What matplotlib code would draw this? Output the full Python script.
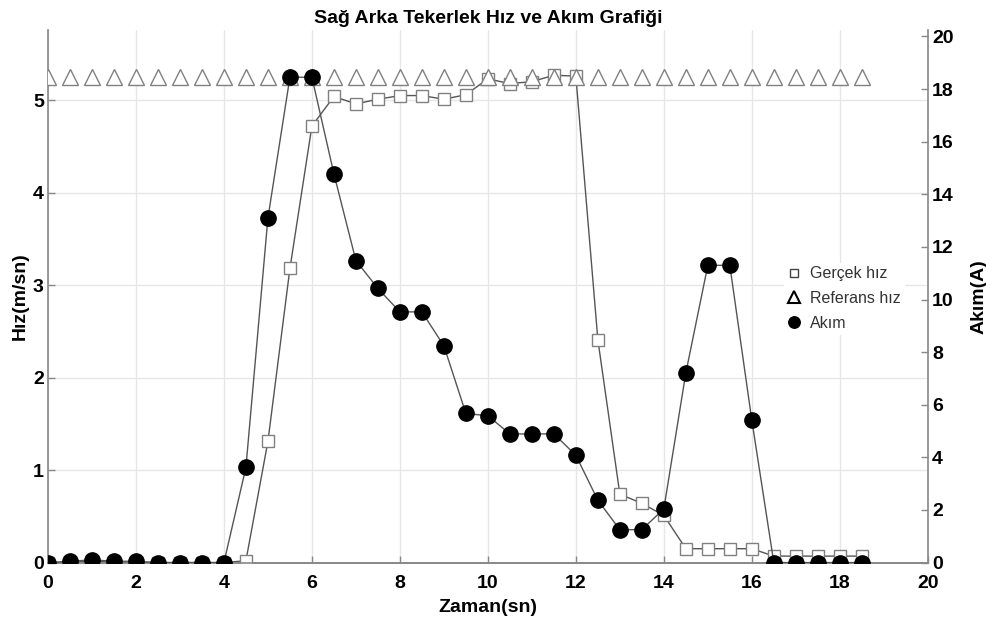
import matplotlib
matplotlib.use('Agg')
import matplotlib.pyplot as plt
import numpy as np

plt.rcParams['font.family'] = ['Liberation Sans', 'DejaVu Sans']

# time axis [s]
zaman = [0, 0.5, 1, 1.5, 2, 2.5, 3, 3.5, 4, 4.5, 5, 5.5, 6, 6.5, 7, 7.5, 8, 8.5, 9, 9.5,
         10, 10.5, 11, 11.5, 12, 12.5, 13, 13.5, 14, 14.5, 15, 15.5, 16, 16.5, 17, 17.5, 18, 18.5]

# measured speed [m/s]
gercek_hiz = [0, 0, 0.02, 0, 0, 0, 0, 0, 0, 0.02, 1.31, 3.18, 4.72, 5.04, 4.96, 5.01, 5.05, 5.05, 5.01, 5.06,
              5.23, 5.18, 5.20, 5.27, 5.26, 2.41, 0.74, 0.64, 0.51, 0.15, 0.15, 0.15, 0.15, 0.07, 0.07, 0.07, 0.07, 0.07]

# reference speed [m/s]
referans_hiz = [5.25] * 38

# current [A]
akim = [0, 0.05, 0.1, 0.05, 0.05, 0, 0, 0, 0, 3.62, 13.1, 18.45, 18.45, 14.78, 11.48, 10.42, 9.53, 9.53, 8.24, 5.67,
        5.58, 4.89, 4.89, 4.89, 4.08, 2.37, 1.25, 1.25, 2.04, 7.21, 11.3, 11.3, 5.41, 0, 0, 0, 0, 0]

fig = plt.figure(figsize=(9.87, 6.23), dpi=100)
ax = fig.add_axes([0.0486, 0.097, 0.8914, 0.855])
ax2 = ax.twinx()

line_col = '#555555'
edge_col = '#808080'
fs = 14

ax.grid(color='#e6e6e6', linewidth=1)
ax.set_axisbelow(True)

l1, = ax.plot(zaman, gercek_hiz, color=line_col, linewidth=1, marker='s', markersize=8.5,
              markerfacecolor='white', markeredgecolor=edge_col, markeredgewidth=1, label='Gerçek hız', zorder=3)
l2, = ax.plot(zaman, referans_hiz, linestyle='none', marker='^', markersize=11.5,
              markerfacecolor='white', markeredgecolor=edge_col, markeredgewidth=1, label='Referans hız', zorder=4)
l3, = ax2.plot(zaman, akim, color=line_col, linewidth=1, marker='o', markersize=11,
               markerfacecolor='black', markeredgecolor='black', label='Akım', zorder=3)

ax.set_xlim(0, 20)
ax.set_ylim(0, 5.76)
ax2.set_ylim(0, 20.25)
ax.set_xticks(np.arange(0, 21, 2))
ax.set_yticks([0, 1, 2, 3, 4, 5])
ax2.set_yticks(np.arange(0, 21, 2))

for a in (ax, ax2):
    a.spines['top'].set_visible(False)
    for s in a.spines.values():
        s.set_color('#888888')
        s.set_linewidth(1.2)
    a.tick_params(direction='in', length=5, width=1, color='#888888', labelsize=fs, pad=3)
    for lab in a.get_xticklabels() + a.get_yticklabels():
        lab.set_fontweight('bold')
ax.tick_params(axis='x', pad=9)
ax2.spines['left'].set_visible(False)
ax.spines['right'].set_visible(False)

ax.set_xlabel('Zaman(sn)', fontsize=fs, fontweight='bold', labelpad=5)
ax.set_ylabel('Hız(m/sn)', fontsize=fs, fontweight='bold', labelpad=3)
ax2.set_ylabel('Akım(A)', fontsize=fs, fontweight='bold', labelpad=12)
ax.set_title('Sağ Arka Tekerlek Hız ve Akım Grafiği', fontsize=fs, fontweight='bold', pad=5)

leg = ax2.legend(handles=[l1, l2, l3], loc='upper left', bbox_to_anchor=(0.828, 0.577),
                 frameon=True, fancybox=False, edgecolor='white', framealpha=1,
                 fontsize=11.5, markerscale=0.75, handlelength=0.8, handletextpad=0.6,
                 labelspacing=0.6, borderpad=0.2)
for h in leg.legend_handles:
    h.set_linestyle('none')
leg.legend_handles[1].set_markeredgecolor('black')
leg.legend_handles[1].set_markeredgewidth(1.5)
leg.legend_handles[0].set_markeredgecolor('#444444')
for t in leg.get_texts():
    t.set_color('#333333')

fig.savefig('out.png', dpi=100)
